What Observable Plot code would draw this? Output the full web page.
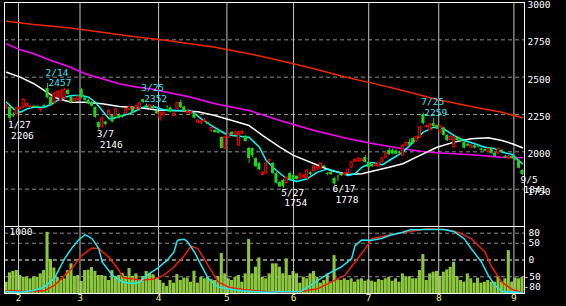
<!DOCTYPE html>
<html><head><meta charset="utf-8">
<script src="https://cdn.jsdelivr.net/npm/d3@7"></script>
<script src="https://cdn.jsdelivr.net/npm/@observablehq/plot@0.6"></script>
<style>
html,body{margin:0;padding:0;background:#000;}
#chart{position:relative;width:566px;height:306px;background:#000;overflow:hidden;}
#chart svg{position:absolute;left:0;top:0;}
</style></head><body><div id="chart"></div>
<script>
// ---- data (trading-day index 0 = Jan 26) ----
const open = [2290,2300,2250,2255,2285,2297,2305,2300,2305,2302, 2280,2310,2424,2364,2330,2370,2340,2360,2410,2365, 2335,2345,2415,2360,2345,2330,2297,2196,2165,2200, 2245,2245,2245,2250,2240,2255,2280,2297,2285,2290, 2350,2310,2295,2305,2270,2225,2245,2300,2295,2240, 2290,2330,2300,2260,2255,2257,2195,2190,2205,2196, 2140,2143,2140,2096,2022,2095,2130,2115,2042,2120, 2103,2022,2022,1955,1922,1845,1855,1935,1922,1855, 1795,1808,1790,1855,1842,1835,1820,1828,1822,1860, 1868,1880,1888,1905,1855,1862,1822,1830,1850,1845, 1855,1895,1935,1935,1938,1962,1929,1915,1905,1902, 1930,1962,2009,2010,2005,1995,1975,2042,2062,2089, 2070,2096,2250,2165,2143,2190,2175,2130,2160,2110, 2080,2030,2096,2080,2063,2050,2030,2040,2035,2020, 2015,2000,2020,1990,1990,2010,1970,1955,1970,1960, 1942,1875];
const high = [2315,2305,2262,2295,2300,2355,2330,2310,2310,2310, 2284,2318,2457,2370,2400,2410,2420,2425,2420,2375, 2360,2375,2425,2365,2350,2335,2300,2200,2235,2205, 2280,2250,2290,2255,2245,2290,2305,2300,2310,2330, 2352,2320,2315,2310,2275,2265,2268,2310,2300,2265, 2330,2345,2305,2285,2275,2260,2215,2208,2225,2200, 2165,2148,2145,2100,2100,2125,2135,2140,2135,2145, 2110,2030,2025,1960,1930,1865,1925,1950,1930,1860, 1800,1815,1830,1865,1850,1840,1855,1845,1880,1865, 1905,1900,1925,1910,1862,1868,1825,1845,1855,1860, 1885,1932,1950,1960,1955,1975,1935,1918,1918,1925, 1960,1992,2025,2020,2012,2005,2045,2065,2085,2095, 2105,2170,2259,2178,2190,2225,2180,2175,2165,2115, 2110,2100,2100,2090,2070,2055,2050,2045,2050,2025, 2020,2025,2025,1995,2025,2015,1975,1975,1975,1965, 1945,1878];
const low = [2285,2206,2230,2245,2280,2290,2300,2285,2290,2292, 2262,2300,2355,2305,2325,2360,2335,2350,2380,2320, 2330,2340,2355,2340,2315,2300,2225,2146,2160,2175, 2240,2195,2240,2220,2225,2250,2275,2255,2280,2285, 2325,2295,2290,2285,2250,2205,2240,2280,2260,2235, 2285,2290,2265,2255,2250,2220,2190,2185,2195,2180, 2130,2125,2120,2020,2015,2090,2110,2110,2040,2115, 2065,1922,1960,1895,1875,1840,1850,1930,1850,1785, 1760,1754,1785,1808,1810,1810,1815,1822,1818,1840, 1862,1875,1882,1890,1840,1842,1778,1800,1835,1840, 1850,1890,1930,1930,1935,1925,1890,1895,1900,1898, 1925,1958,1975,1980,1982,1978,1970,2040,2040,2050, 2065,2090,2180,2160,2140,2165,2150,2125,2105,2070, 2075,2025,2070,2065,2020,2035,2025,2020,2025,2005, 2000,1995,1985,1965,1985,1995,1955,1950,1950,1940, 1885,1841];
const close = [2310,2225,2240,2290,2295,2350,2320,2303,2297,2297, 2284,2305,2364,2315,2390,2400,2405,2415,2385,2330, 2355,2370,2364,2345,2320,2305,2232,2163,2222,2183, 2275,2200,2285,2225,2230,2285,2300,2260,2305,2325, 2330,2300,2310,2290,2255,2262,2262,2298,2265,2255, 2325,2295,2270,2270,2268,2225,2210,2200,2210,2183, 2160,2130,2125,2022,2096,2120,2115,2130,2130,2135, 2069,1955,1975,1900,1880,1860,1922,1945,1855,1790, 1765,1768,1828,1815,1815,1815,1850,1840,1875,1848, 1902,1895,1922,1895,1850,1848,1785,1828,1840,1857, 1880,1929,1945,1955,1950,1929,1895,1900,1915,1922, 1955,1989,1982,1985,1985,1990,2042,2060,2045,2056, 2100,2163,2190,2172,2183,2170,2155,2170,2110,2075, 2100,2096,2076,2070,2025,2040,2045,2025,2032,2010, 2005,2020,1990,1970,2020,2000,1960,1970,1955,1945, 1890,1848];
const volume = [169,308,330,343,268,243,243,219,243,243, 293,343,913,507,380,243,194,219,343,443, 255,268,180,343,348,387,330,268,268,255, 194,340,255,268,300,255,372,255,293,194, 255,330,293,280,230,194,154,104,194,154, 283,194,230,230,169,332,154,243,219,243, 207,194,255,596,293,219,194,240,268,169, 293,805,293,392,530,243,219,293,443,443, 392,293,517,268,330,293,154,243,219,293, 330,243,154,194,293,169,566,204,194,219, 194,219,169,204,219,184,204,184,169,209, 194,219,243,184,219,169,293,243,253,219, 219,343,581,194,293,318,330,253,318,353, 392,467,253,194,169,293,219,154,229,154, 169,194,169,169,253,169,219,641,169,229, 219,243];

// moving averages, read at sample days
const maLongIdx = [0,8,18,28,37,47,61,71,80,90,100,107,116,126,136,145,151];
const maLongVal = [2875,2853,2831,2801,2772,2746,2701,2657,2612,2557,2496,2460,2411,2350,2304,2265,2228];
const maMidIdx = [0,4,8,13,18,23,28,33,37,42,47,54,61,71,80,90,100,107,116,121,126,136,145,151];
const maMidVal = [2723,2683,2657,2612,2573,2523,2489,2456,2438,2422,2399,2366,2322,2277,2210,2143,2087,2056,2020,2004,1994,1980,1964,1960];
const ma25Idx = [0,4,8,11,14,17,19,23,28,33,39,44,51,56,61,66,71,75,80,84,90,95,100,104,107,112,116,121,126,131,136,141,145,148,151];
const ma25Val = [2533,2500,2456,2411,2366,2344,2332,2332,2322,2304,2295,2280,2275,2268,2243,2210,2176,2109,2031,1976,1920,1875,1848,1853,1870,1897,1920,1976,2031,2065,2087,2094,2076,2054,2027];
const ma5Idx = [0,2,4,6,8,11,13,15,17,19,22,24,26,28,30,31,33,36,38,40,43,45,47,50,54,57,60,64,66,71,74,76,79,82,85,88,91,94,97,100,102,104,107,110,112,116,119,122,125,128,131,134,137,140,143,145,148,151];
const ma5Val = [2332,2288,2265,2288,2299,2299,2317,2344,2366,2377,2377,2366,2332,2277,2221,2221,2237,2255,2277,2299,2304,2288,2277,2277,2277,2221,2176,2121,2109,2098,2031,1942,1875,1820,1801,1820,1864,1886,1864,1842,1853,1897,1929,1913,1942,1998,2065,2132,2165,2154,2109,2076,2054,2031,2020,1998,1982,1920];

// oscillator
const oscKIdx = [0,4,8,11,14,17,19,21,23,25,27,28,31,34,37,39,41,44,47,49,50,52,53,55,57,59,62,66,69,72,76,80,86,89,92,95,98,101,102,104,107,110,112,116,118,123,128,131,134,136,139,141,143,145,149,151];
const oscKVal = [-94,-96,-91,-81,-55,4,34,59,76,64,34,-6,-46,-66,-71,-66,-46,-26,-1,24,59,62,54,24,-16,-55,-81,-88,-92,-94,-96,-95,-94,-76,-55,-36,-21,4,43,60,59,65,73,83,90,91,91,85,63,34,-6,-46,-76,-94,-96,-97];
const oscDIdx = [0,6,11,14,17,19,22,25,27,30,33,34,37,40,43,46,49,52,54,56,59,62,65,69,76,80,86,91,96,99,102,105,107,110,114,118,123,128,132,136,140,142,145,148,151];
const oscDVal = [-91,-94,-92,-76,-46,-26,13,36,34,8,-32,-52,-57,-60,-57,-46,-21,13,41,34,-16,-66,-81,-88,-94,-96,-94,-86,-61,-46,-6,34,64,70,78,85,93,91,83,64,24,-21,-66,-88,-97];

// annotations
const annIdx = [1,12,27,40,81,96,122,151];
const annDate = ["1/27","2/14","3/7","3/25","5/27","6/17","7/25","9/5"];
const annPrice = [2206,2457,2146,2352,1754,1778,2259,1841];
const annKind = ["low","high","low","high","low","low","high","low"];

// axes
const priceTicks = [3000,2750,2500,2250,2000,1750];
const oscTicks = [80,50,0,-50,-80];
const volTop = 1000;
const monthBreaks = [3.5,21.5,44.5,64.5,84,106,126.5,148.5];
const monthLabels = ["2","3","4","5","6","7","8","9"];

// ---- build ----
const xDomain = [-0.6, 151.6];
const FONT = "'DejaVu Sans Mono', monospace";
const FS = 9.5;
const C = {up:"#ff0000", down:"#22d022", vol:"#8cc63e", grid:"#8c8c8c", vline:"#c4c4c4",
  maLong:"#f02800", maMid:"#ff00ff", ma25:"#ffffff", ma5:"#00ffff", oscK:"#20e8f8", oscD:"#f02000",
  hiText:"#40e0f0", loText:"#ffffff", month:"#f4f088"};

const candles = open.map((o, i) => ({i, o, h: high[i], l: low[i], c: close[i]}));
const ups = candles.filter(d => d.c >= d.o);
const downs = candles.filter(d => d.c < d.o);
const series = (idx, val) => idx.map((i, k) => ({i, v: val[k]}));
const ann = annIdx.map((i, k) => ({i, date: annDate[k], p: annPrice[k], kind: annKind[k]}));
const hi = ann.filter(d => d.kind === "high"), lo = ann.filter(d => d.kind === "low");
const vols = volume.map((v, i) => ({i, v}));

const base = {width: 566, marginLeft: 4, marginRight: 42,
  style: {background: "transparent", fontFamily: FONT, fontSize: FS + "px", color: "white", overflow: "visible"}};
const txt = {fontFamily: FONT, fontSize: FS};

const main = Plot.plot({...base, height: 228, marginTop: 2, marginBottom: 2,
  x: {domain: xDomain, axis: null},
  y: {domain: [1500, 3000], axis: null},
  marks: [
    Plot.ruleY(priceTicks.slice(1), {stroke: C.grid, strokeDasharray: "4,3"}),
    Plot.ruleX(monthBreaks, {stroke: C.vline}),
    Plot.line(series(maLongIdx, maLongVal), {x: "i", y: "v", stroke: C.maLong}),
    Plot.line(series(maMidIdx, maMidVal), {x: "i", y: "v", stroke: C.maMid}),
    Plot.line(series(ma25Idx, ma25Val), {x: "i", y: "v", stroke: C.ma25}),
    Plot.line(series(ma5Idx, ma5Val), {x: "i", y: "v", stroke: C.ma5}),
    Plot.ruleX(ups, {x: "i", y1: "l", y2: "h", stroke: C.up}),
    Plot.ruleX(downs, {x: "i", y1: "l", y2: "h", stroke: C.down}),
    Plot.rect(downs, {x1: d => d.i - 0.45, x2: d => d.i + 0.45, y1: "o", y2: "c", fill: C.down}),
    Plot.rect(ups, {x1: d => d.i - 0.3, x2: d => d.i + 0.3, y1: "o", y2: "c", stroke: C.up, fill: "black"}),
    Plot.text(hi, {x: "i", y: "p", text: "date", textAnchor: "start", lineAnchor: "bottom", dx: -2, dy: -8, fill: C.hiText, ...txt}),
    Plot.text(hi, {x: "i", y: "p", text: d => String(d.p), textAnchor: "start", lineAnchor: "bottom", dx: 1, dy: 2.5, fill: C.hiText, ...txt}),
    Plot.text(lo, {x: "i", y: "p", text: "date", textAnchor: "start", lineAnchor: "top", dx: -2, dy: 0.5, fill: C.loText, ...txt}),
    Plot.text(lo, {x: "i", y: "p", text: d => String(d.p), textAnchor: "start", lineAnchor: "top", dx: 1, dy: 11, fill: C.loText, ...txt}),
    Plot.text(priceTicks, {x: xDomain[1], y: d => d, text: d => String(d), textAnchor: "start", dx: 3, dy: 2.5, fill: "white", ...txt}),
    Plot.frame({stroke: "white"})
  ]
});

const lowerBase = {...base, height: 306, marginTop: 226, marginBottom: 13, x: {domain: xDomain, axis: null}};

const oscGrid = Plot.plot({...lowerBase,
  y: {domain: [-100, 100], axis: null},
  marks: [
    Plot.ruleY(oscTicks.filter(d => d !== 0 && d !== -80), {stroke: C.grid, strokeDasharray: "4,3"}),
    Plot.ruleY([0], {stroke: "white", strokeDasharray: "4,3"})
  ]
});

const vol = Plot.plot({...lowerBase,
  y: {domain: [0, volTop], axis: null},
  marks: [
    Plot.rect(vols, {x1: d => d.i - 0.45, x2: d => d.i + 0.45, y1: 0, y2: "v", fill: C.vol}),
    Plot.text([volTop], {x: xDomain[0], y: d => d, text: d => String(d), textAnchor: "start", lineAnchor: "top", dx: 5, dy: 2, fill: "white", ...txt}),
    Plot.text(monthBreaks, {x: d => d, text: (d, k) => monthLabels[k], frameAnchor: "bottom", lineAnchor: "top", dy: 1, fill: C.month, ...txt})
  ]
});

const osc = Plot.plot({...lowerBase,
  y: {domain: [-100, 100], axis: null},
  marks: [
    Plot.ruleX(monthBreaks, {stroke: C.vline}),
    Plot.line(series(oscDIdx, oscDVal), {x: "i", y: "v", stroke: C.oscD}),
    Plot.line(series(oscKIdx, oscKVal), {x: "i", y: "v", stroke: C.oscK}),
    Plot.text(oscTicks.filter(d => d >= 0), {x: xDomain[1], y: d => d, text: d => String(d), textAnchor: "start", dx: 4, fill: "white", ...txt}),
    Plot.text(oscTicks.filter(d => d < 0), {x: xDomain[1], y: d => d, text: d => String(d), textAnchor: "start", dx: -1, fill: "white", ...txt}),
    Plot.frame({stroke: "white"})
  ]
});

const el = document.getElementById("chart");
[main, oscGrid, vol, osc].forEach(s => el.appendChild(s));
</script>
</body></html>
